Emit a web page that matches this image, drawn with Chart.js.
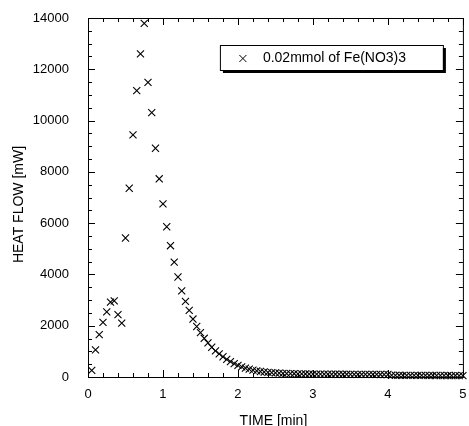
<!DOCTYPE html>
<html>
<head>
<meta charset="utf-8">
<script src="https://cdn.jsdelivr.net/npm/chart.js@4.4.0/dist/chart.umd.min.js"></script>
<style>
  body { margin: 0; background: #fff; }
  #wrap { width: 469px; height: 426px; position: relative; }
</style>
</head>
<body>
<div id="wrap"><canvas id="heatChart"></canvas></div>
<script>
// sample times [min]
const times = [
  0.05, 0.10, 0.15, 0.20, 0.25, 0.30, 0.35, 0.40, 0.45, 0.50,
  0.55, 0.60, 0.65, 0.70, 0.75, 0.80, 0.85, 0.90, 0.95, 1.00,
  1.05, 1.10, 1.15, 1.20, 1.25, 1.30, 1.35, 1.40, 1.45, 1.50,
  1.55, 1.60, 1.65, 1.70, 1.75, 1.80, 1.85, 1.90, 1.95, 2.00,
  2.05, 2.10, 2.15, 2.20, 2.25, 2.30, 2.35, 2.40, 2.45, 2.50,
  2.55, 2.60, 2.65, 2.70, 2.75, 2.80, 2.85, 2.90, 2.95, 3.00,
  3.05, 3.10, 3.15, 3.20, 3.25, 3.30, 3.35, 3.40, 3.45, 3.50,
  3.55, 3.60, 3.65, 3.70, 3.75, 3.80, 3.85, 3.90, 3.95, 4.00,
  4.05, 4.10, 4.15, 4.20, 4.25, 4.30, 4.35, 4.40, 4.45, 4.50,
  4.55, 4.60, 4.65, 4.70, 4.75, 4.80, 4.85, 4.90, 4.95, 5.00
];

// heat flow [mW]
const heatFlow = [
  260, 1060, 1650, 2130, 2540, 2920, 2970, 2430, 2100, 5420,
  7360, 9440, 11170, 12600, 13790, 11490, 10310, 8920, 7730, 6750,
  5860, 5120, 4480, 3900, 3360, 2950, 2600, 2260, 1970, 1730,
  1510, 1330, 1160, 1020, 900, 790, 690, 600, 520, 455,
  395, 345, 305, 270, 240, 215, 195, 180, 168, 158,
  150, 143, 137, 132, 128, 124, 121, 118, 116, 114,
  113, 111, 112, 110, 108, 109, 107, 106, 106, 104,
  105, 103, 102, 103, 101, 100, 101, 99, 98, 97,
  68, 66, 67, 65, 64, 65, 63, 62, 63, 61,
  60, 61, 59, 58, 59, 57, 56, 57, 55, 54
];

const seriesLabel = '0.02mmol of Fe(NO3)3';
const xTitle = 'TIME [min]';
const yTitle = 'HEAT FLOW [mW]';
const xMax = 5, xMajor = 1, xMinor = 0.2;
const yMax = 14000, yMajor = 2000, yMinor = 500;

const FAMILY = '"Liberation Sans", Arial, sans-serif';
const TITLE_FONT = '14px ' + FAMILY;
Chart.defaults.font.family = FAMILY;
Chart.defaults.font.size = 13;
Chart.defaults.color = '#000';

function drawCross(ctx, x, y, r) {
  const o = r * Math.SQRT1_2;
  ctx.beginPath();
  ctx.moveTo(x - o, y - o); ctx.lineTo(x + o, y + o);
  ctx.moveTo(x - o, y + o); ctx.lineTo(x + o, y - o);
  ctx.stroke();
}

// keep tick labels from pushing the plot area inwards
function noOverflow(s) {
  s.paddingTop = s.paddingBottom = s.paddingLeft = s.paddingRight = 0;
}

// box frame, inward ticks on all four sides, axis titles, legend box
const frame = {
  id: 'frame',
  afterDatasetsDraw(chart) {
    const { ctx, chartArea: ca, scales: { x, y } } = chart;
    ctx.save();
    ctx.strokeStyle = '#000';
    ctx.lineWidth = 1;
    ctx.strokeRect(ca.left + 0.5, ca.top + 0.5, ca.right - ca.left, ca.bottom - ca.top);

    ctx.beginPath();
    for (let i = 0; i <= Math.round(xMax / xMinor); i++) {
      const v = i * xMinor;
      const px = Math.round(x.getPixelForValue(v)) + 0.5;
      const len = Math.abs(v / xMajor - Math.round(v / xMajor)) < 1e-6 ? 7 : 4;
      ctx.moveTo(px, ca.bottom); ctx.lineTo(px, ca.bottom - len);
      ctx.moveTo(px, ca.top); ctx.lineTo(px, ca.top + len);
    }
    for (let i = 0; i <= Math.round(yMax / yMinor); i++) {
      const v = i * yMinor;
      const py = Math.round(y.getPixelForValue(v)) + 0.5;
      const len = v % yMajor === 0 ? 7 : 4;
      ctx.moveTo(ca.left, py); ctx.lineTo(ca.left + len, py);
      ctx.moveTo(ca.right, py); ctx.lineTo(ca.right - len, py);
    }
    ctx.stroke();

    // axis titles
    ctx.fillStyle = '#000';
    ctx.font = TITLE_FONT;
    ctx.textAlign = 'center';
    ctx.textBaseline = 'middle';
    ctx.fillText(xTitle, (ca.left + ca.right) / 2 - 2, ca.bottom + 44);
    ctx.save();
    ctx.translate(ca.left - 69, (ca.top + ca.bottom) / 2 + 7);
    ctx.rotate(-Math.PI / 2);
    ctx.fillText(yTitle, 0, 0);
    ctx.restore();

    // legend with drop shadow
    const bw = 223, bh = 25;
    const bx = ca.right - 20 - bw, by = ca.top + 27;
    ctx.fillStyle = '#000';
    ctx.fillRect(bx + 3, by + 3, bw, bh);
    ctx.fillStyle = '#fff';
    ctx.fillRect(bx, by, bw, bh);
    ctx.strokeRect(bx + 0.5, by + 0.5, bw, bh);
    drawCross(ctx, bx + 23, by + bh / 2 + 1, 5);
    ctx.fillStyle = '#000';
    ctx.textAlign = 'left';
    ctx.fillText(seriesLabel, bx + 43, by + bh / 2 + 1);
    ctx.restore();
  }
};

new Chart(document.getElementById('heatChart'), {
  type: 'scatter',
  data: {
    datasets: [{
      label: seriesLabel,
      data: times.map((t, i) => ({ x: t, y: heatFlow[i] })),
      pointStyle: 'crossRot',
      pointRadius: 5,
      borderColor: '#000',
      borderWidth: 1.1,
      showLine: false,
      clip: false
    }]
  },
  options: {
    responsive: true,
    maintainAspectRatio: false,
    animation: false,
    layout: { padding: { top: 18, right: 6, left: 0, bottom: 0 } },
    plugins: { legend: { display: false }, tooltip: { enabled: false } },
    scales: {
      x: {
        type: 'linear', min: 0, max: xMax,
        ticks: { stepSize: xMajor, padding: 10, maxRotation: 0, color: '#000' },
        grid: { display: false, drawTicks: false },
        border: { display: false },
        afterFit(s) { s.height = 49; noOverflow(s); }
      },
      y: {
        min: 0, max: yMax,
        ticks: { stepSize: yMajor, padding: 19, color: '#000', callback: v => String(v) },
        grid: { display: false, drawTicks: false },
        border: { display: false },
        afterFit(s) { s.width = 88; noOverflow(s); }
      }
    }
  },
  plugins: [frame]
});
</script>
</body>
</html>
